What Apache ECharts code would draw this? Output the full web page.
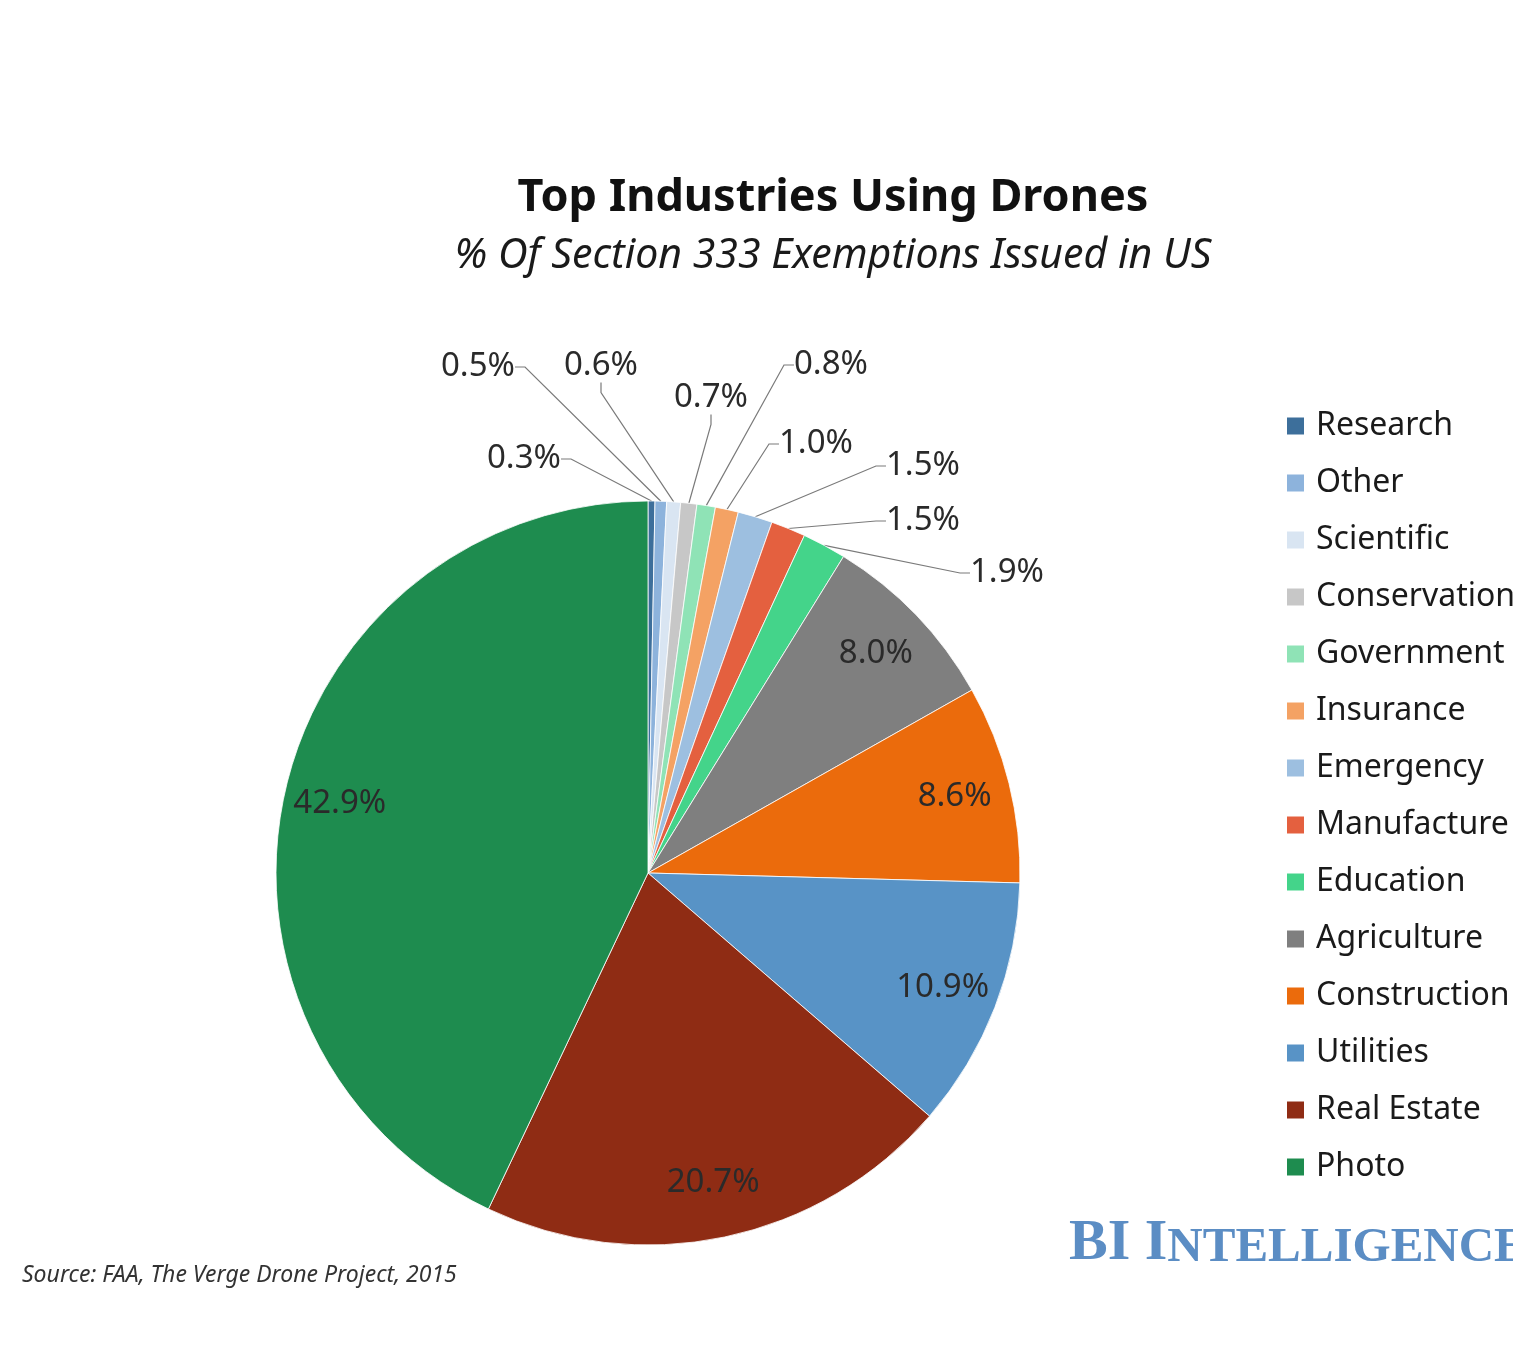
<!DOCTYPE html>
<html>
<head>
<meta charset="utf-8">
<script src="https://cdn.jsdelivr.net/npm/echarts@6/dist/echarts.min.js"></script>
<style>html,body{margin:0;padding:0;background:#fff;}#chart{width:1513px;height:1348px;}</style>
</head>
<body>
<div id="chart"></div>
<script>
// ---- data ----
const categories = ['Research','Other','Scientific','Conservation','Government','Insurance','Emergency','Manufacture','Education','Agriculture','Construction','Utilities','Real Estate','Photo'];
const shares = [0.3, 0.5, 0.6, 0.7, 0.8, 1.0, 1.5, 1.5, 1.9, 8.0, 8.6, 10.9, 20.7, 42.9];
const sliceColors = ['#3d6f9b','#8db3dc','#d9e5f2','#c7c7c7','#8fe3b6','#f4a264','#9dbfe0','#e4603f','#44d48a','#7f7f7f','#eb6b0c','#5893c6','#8f2c14','#1e8c4f'];
const insideLabelMin = 5; // shares above this are labelled inside the slice
// label anchor spots for the small outside labels (Excel manual placement)
const outsideLabelSpots = [[524,459],[478,367],[601,366],[711,398],[831,365],[816,444],[923,466],[923,521],[1007,573]];

const fmt = v => v.toFixed(1) + '%';
const labelFont = {fontFamily:'Noto Sans', fontSize:33, color:'#2a2a2a'};

const mainData = categories.map((n,i) => ({
  name:n, value:shares[i],
  itemStyle:{color:sliceColors[i]},
  label:{show: shares[i] < insideLabelMin},
  labelLine:{show: shares[i] < insideLabelMin}
}));
const overlayData = categories.map((n,i) => ({
  name:n, value:shares[i],
  label:{show: shares[i] >= insideLabelMin}
}));

const chart = echarts.init(document.getElementById('chart'), null, {renderer:'canvas'});
chart.setOption({
  backgroundColor:'#fff',
  animation:false,
  title:[
    {text:'Top Industries Using Drones', left:828, top:171, textAlign:'center',
     textStyle:{fontFamily:'Noto Sans', fontWeight:'bold', fontSize:45, color:'#111'}},
    {text:'% Of Section 333 Exemptions Issued in US', left:828, top:231, textAlign:'center',
     textStyle:{fontFamily:'Noto Sans', fontStyle:'italic', fontWeight:'normal', fontSize:41, color:'#1a1a1a'}},
    {text:'Source: FAA, The Verge Drone Project, 2015', left:17, top:1259,
     textStyle:{fontFamily:'Noto Sans', fontStyle:'italic', fontWeight:'normal', fontSize:23, color:'#333'}},
    {text:'{a|BI I}{b|NTELLIGENCE}', left:1064, top:1210,
     textStyle:{rich:{
       a:{fontFamily:'Liberation Serif', fontSize:58, color:'#5b8dc4', verticalAlign:'bottom'},
       b:{fontFamily:'Liberation Serif', fontSize:49, color:'#5b8dc4', verticalAlign:'bottom'}
     }}}
  ],
  legend:{
    orient:'vertical', left:1285, top:408, padding:0,
    data:categories,
    icon:'rect', itemWidth:19, itemHeight:19, itemGap:21,
    selectedMode:false,
    textStyle:{fontFamily:'Noto Sans', fontSize:32, color:'#1a1a1a', lineHeight:36, padding:[0,0,0,6]}
  },
  series:[
    {
      type:'pie', name:'main',
      center:[648,873], radius:372,
      startAngle:90, clockwise:true,
      avoidLabelOverlap:false,
      silent:true,
      itemStyle:{borderColor:'#fff', borderWidth:0.8},
      label:{position:'outside', formatter:p => fmt(p.value), ...labelFont},
      labelLine:{length:20, length2:10, lineStyle:{color:'#7a7a7a', width:1.2}},
      labelLayout: function(params){
        const spot = outsideLabelSpots[params.dataIndex];
        if (!spot) return {};
        return {x:spot[0], y:spot[1], align:'center', verticalAlign:'middle'};
      },
      data:mainData
    },
    {
      type:'pie', name:'labels',
      center:[648,873], radius:[254,372],
      startAngle:90, clockwise:true,
      silent:true,
      itemStyle:{color:'rgba(0,0,0,0)', borderWidth:0},
      label:{position:'inside', formatter:p => fmt(p.value), ...labelFont},
      labelLine:{show:false},
      data:overlayData
    }
  ]
});
</script>
</body>
</html>
